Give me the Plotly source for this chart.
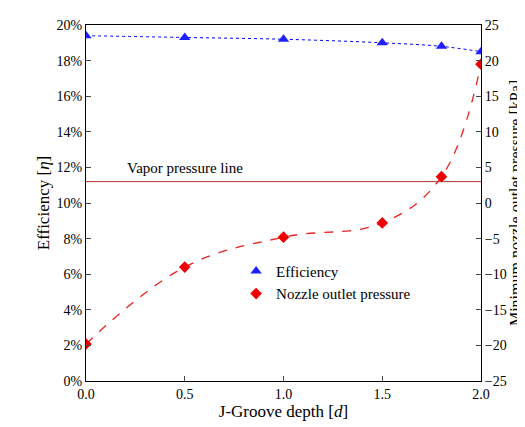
import plotly.graph_objects as go

depth = [0.0, 0.5, 1.0, 1.5, 1.8, 2.0]
efficiency = [0.194, 0.193, 0.192, 0.190, 0.188, 0.185]
pressure = [-19.8, -9.0, -4.8, -2.8, 3.7, 19.5]
vapor_pressure = 3.0

fig = go.Figure()
fig.add_trace(go.Scatter(x=depth, y=efficiency, mode="lines", showlegend=False,
    line=dict(color="blue", dash="dot", width=1, shape="spline")))
fig.add_trace(go.Scatter(x=depth, y=pressure, mode="lines", yaxis="y2", showlegend=False,
    line=dict(color="#ee2222", dash="dash", width=1.3, shape="spline", smoothing=1.1)))
fig.add_trace(go.Scatter(x=depth, y=efficiency, mode="markers", name="Efficiency",
    marker=dict(symbol="triangle-up", size=10, color="#1f1fff")))
fig.add_trace(go.Scatter(x=depth, y=pressure, mode="markers", name="Nozzle outlet pressure",
    yaxis="y2", marker=dict(symbol="diamond", size=9, color="#ee0000")))
fig.add_trace(go.Scatter(x=[0, 2], y=[vapor_pressure, vapor_pressure], mode="lines", yaxis="y2",
    showlegend=False, line=dict(color="#b03030", width=1)))
fig.add_annotation(x=0.5, y=vapor_pressure, yref="y2", text="Vapor pressure line", showarrow=False,
    yshift=14, font=dict(size=15))

axfont = dict(family="Liberation Serif", size=14, color="black")
fig.update_layout(
    width=525, height=427, margin=dict(l=78, r=52, t=10, b=54),
    plot_bgcolor="white", paper_bgcolor="white",
    font=dict(family="Liberation Serif", size=14, color="black"),
    xaxis=dict(range=[0, 2], tickvals=[0, 0.5, 1, 1.5, 2], tickformat=".1f",
        title=dict(text="J-Groove depth [<i>d</i>]", font=dict(size=17), standoff=4),
        showline=True, linecolor="black", mirror=True, ticks="inside", showgrid=False, zeroline=False, tickfont=axfont),
    yaxis=dict(range=[0, 0.2], dtick=0.02, tickformat=".0%",
        title=dict(text="Efficiency [<i>η</i>]", font=dict(size=17), standoff=2),
        showline=True, linecolor="black", ticks="inside", showgrid=False, zeroline=False, tickfont=axfont),
    yaxis2=dict(range=[-25, 25], dtick=5, overlaying="y", side="right",
        title=dict(text="Minimum nozzle outlet pressure [kPa]", font=dict(size=16), standoff=2),
        showline=True, linecolor="black", ticks="inside", showgrid=False, zeroline=False, tickfont=axfont),
    legend=dict(x=0.38, y=0.2, bgcolor="rgba(0,0,0,0)", font=dict(size=15)),
)
fig.write_html("out.html")
